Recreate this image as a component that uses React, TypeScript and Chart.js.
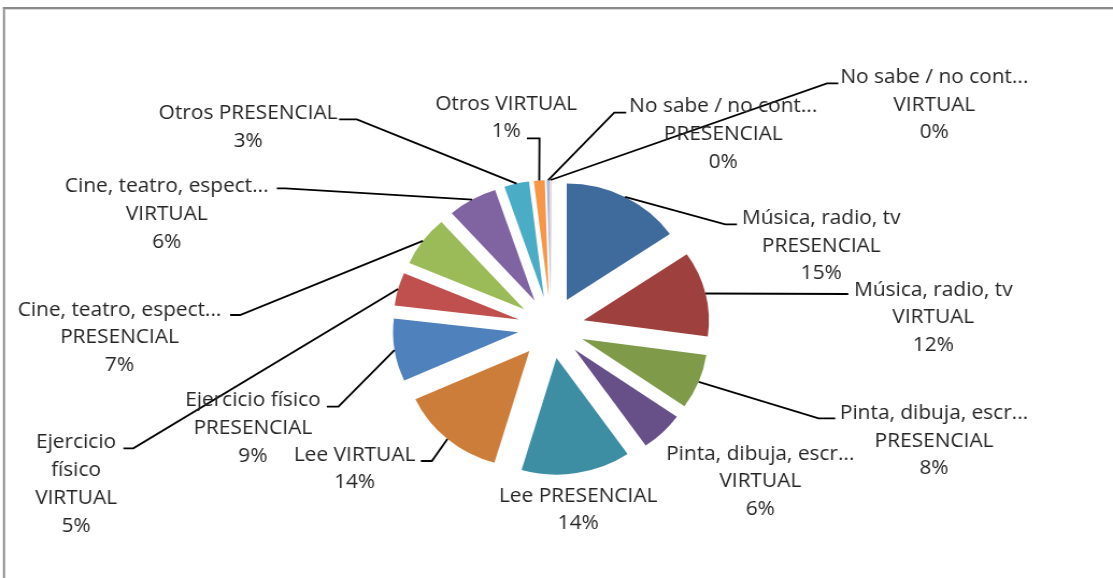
import React, { useEffect, useRef } from "react";
import { Chart, registerables } from "chart.js";

Chart.register(...registerables);

// ---------- data ----------
const categories = [
  "Música, radio, tv PRESENCIAL",
  "Música, radio, tv VIRTUAL",
  "Pinta, dibuja, escr... PRESENCIAL",
  "Pinta, dibuja, escr... VIRTUAL",
  "Lee PRESENCIAL",
  "Lee VIRTUAL",
  "Ejercicio físico PRESENCIAL",
  "Ejercicio físico VIRTUAL",
  "Cine, teatro, espect... PRESENCIAL",
  "Cine, teatro, espect... VIRTUAL",
  "Otros PRESENCIAL",
  "Otros VIRTUAL",
  "No sabe / no cont... PRESENCIAL",
  "No sabe / no cont... VIRTUAL",
];

const labelTexts = [
  ["Música, radio, tv", "PRESENCIAL"],
  ["Música, radio, tv", "VIRTUAL"],
  ["Pinta, dibuja, escr...", "PRESENCIAL"],
  ["Pinta, dibuja, escr...", "VIRTUAL"],
  ["Lee PRESENCIAL"],
  ["Lee VIRTUAL"],
  ["Ejercicio físico", "PRESENCIAL"],
  ["Ejercicio", "físico", "VIRTUAL"],
  ["Cine, teatro, espect...", "PRESENCIAL"],
  ["Cine, teatro, espect...", "VIRTUAL"],
  ["Otros PRESENCIAL"],
  ["Otros VIRTUAL"],
  ["No sabe / no cont...", "PRESENCIAL"],
  ["No sabe / no cont...", "VIRTUAL"],
];

const values = [15.4, 11.8, 7.6, 5.6, 14.1, 13.7, 8.7, 4.6, 7.0, 6.4, 3.2, 1.4, 0.4, 0.1];

const colors = [
  "#3F6B9C", "#9E413E", "#7F9B4A", "#674F87", "#3D8DA3", "#CD7D3A", "#4F81BD",
  "#C0504D", "#9BBB59", "#8064A2", "#4BACC6", "#F79646", "#A7BADB", "#DDA5A4",
];

// ---------- layout (label placement, page pixels) ----------
const labelLayout: { x: number; y: number; elbow?: number[]; end?: number[] }[] = [
  { x: 821, y: 218.3, elbow: [725, 224.3], end: [736.7, 224.3] },
  { x: 933, y: 290, elbow: [848, 294], end: [848, 294] },
  { x: 933.7, y: 413.3, elbow: [818.3, 418.3], end: [835, 418.3] },
  { x: 760, y: 454 },
  { x: 578, y: 496 },
  { x: 354.5, y: 455, elbow: [431.7, 461], end: [420.7, 461] },
  { x: 252.8, y: 400.7, elbow: [338.3, 406.7], end: [326.7, 406.7] },
  { x: 76, y: 442.7, elbow: [133.3, 448.3], end: [123.3, 448.3] },
  { x: 119.5, y: 310, elbow: [240, 315], end: [230, 315] },
  { x: 166.7, y: 186.7, elbow: [285, 188.3], end: [276.7, 188.3] },
  { x: 248, y: 113.3, elbow: [356.7, 119.3], end: [339, 119.3] },
  { x: 506, y: 104, elbow: [539.3, 138.3], end: [526.7, 138.3] },
  { x: 723, y: 106.7, elbow: [614, 112.7], end: [626, 112.7] },
  { x: 934, y: 77.3, elbow: [826.7, 83.3], end: [838, 83.3] },
];

const PAGE_W = 1113;
const PAGE_H = 578;
const SX = 1.075; // horizontal stretch of the original picture
const CANVAS_W = Math.round(PAGE_W / SX);
const RADIUS = 116.5;
const EXPLODE = 31;
const LINE_H = 27.8;
const FONT = '19.4px "Open Sans"';
const TEXT_COLOR = "#262626";

const total = values.reduce((a, b) => a + b, 0);

const piePlugin = {
  id: "explodedLabels",
  beforeDraw(chart: any) {
    const ctx = chart.ctx;
    ctx.save();
    ctx.fillStyle = "#8a8a8a";
    ctx.fillRect(3 / SX, 7, CANVAS_W, 2);
    ctx.fillRect(3 / SX, 7, 2 / SX, PAGE_H);
    ctx.fillStyle = "#d9d9d9";
    ctx.fillRect(5 / SX, 9, CANVAS_W, 1);
    ctx.restore();
  },
  beforeDatasetsDraw(chart: any) {
    const meta = chart.getDatasetMeta(0);
    const cx = (chart.chartArea.left + chart.chartArea.right) / 2;
    const cy = (chart.chartArea.top + chart.chartArea.bottom) / 2;
    meta.data.forEach((arc: any) => {
      const mid = (arc.startAngle + arc.endAngle) / 2;
      arc.x = cx + EXPLODE * Math.cos(mid);
      arc.y = cy + EXPLODE * Math.sin(mid);
    });
  },
  afterDatasetsDraw(chart: any) {
    const ctx = chart.ctx;
    const meta = chart.getDatasetMeta(0);
    ctx.save();
    ctx.strokeStyle = "#000";
    ctx.lineWidth = 1.8;
    meta.data.forEach((arc: any, i: number) => {
      const lay = labelLayout[i];
      if (!lay || !lay.elbow || !lay.end) return;
      const mid = (arc.startAngle + arc.endAngle) / 2;
      const sx = arc.x + arc.outerRadius * Math.cos(mid);
      const sy = arc.y + arc.outerRadius * Math.sin(mid);
      ctx.beginPath();
      ctx.moveTo(sx, sy);
      ctx.lineTo(lay.elbow[0] / SX, lay.elbow[1]);
      ctx.lineTo(lay.end[0] / SX, lay.end[1]);
      ctx.stroke();
    });
    ctx.fillStyle = TEXT_COLOR;
    ctx.font = FONT;
    ctx.textAlign = "center";
    ctx.textBaseline = "middle";
    values.forEach((v, i) => {
      const lay = labelLayout[i];
      const lines = [...labelTexts[i], Math.round((v / total) * 100) + "%"];
      lines.forEach((t, k) => {
        ctx.fillText(t, lay.x / SX, lay.y + k * LINE_H);
      });
    });
    ctx.restore();
  },
};

export default function App() {
  const ref = useRef<HTMLCanvasElement | null>(null);
  useEffect(() => {
    const canvas = ref.current;
    if (!canvas) return;
    const cx = 551 / SX;
    const cy = 327.5;
    const chart = new Chart(canvas, {
      type: "pie",
      data: {
        labels: categories,
        datasets: [
          {
            data: values,
            backgroundColor: colors,
            borderWidth: 0,
          },
        ],
      },
      options: {
        responsive: false,
        maintainAspectRatio: false,
        devicePixelRatio: 1,
        animation: false,
        radius: RADIUS,
        layout: {
          padding: {
            left: 0,
            right: CANVAS_W - 2 * cx,
            top: 2 * cy - PAGE_H,
            bottom: 0,
          },
        },
        plugins: {
          legend: { display: false },
          tooltip: { enabled: false },
        },
      } as any,
      plugins: [piePlugin as any],
    });
    return () => chart.destroy();
  }, []);
  return (
    <div style={{ position: "absolute", left: 0, top: 0, width: PAGE_W, height: PAGE_H, overflow: "hidden", background: "#fff" }}>
      <canvas
        ref={ref}
        width={CANVAS_W}
        height={PAGE_H}
        style={{ display: "block", width: PAGE_W + "px", height: PAGE_H + "px" }}
      />
    </div>
  );
}
